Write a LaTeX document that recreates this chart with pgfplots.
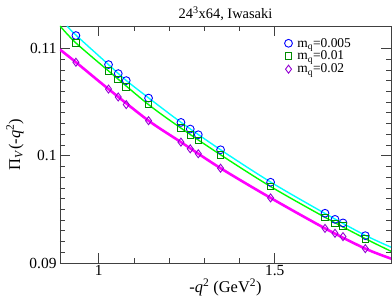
\documentclass[border=0pt]{standalone}
\usepackage{pgfplots}
\pgfplotsset{compat=1.18}
\usepackage{fontspec}
\setmainfont{Liberation Serif}
\definecolor{cblue}{HTML}{0000FF}
\definecolor{cgreen}{HTML}{008B00}
\definecolor{cviolet}{HTML}{9400D3}
\definecolor{lcyan}{HTML}{00FFFF}
\definecolor{lgreen}{HTML}{00FF00}
\definecolor{lmag}{HTML}{FF00FF}
\begin{document}
\begin{tikzpicture}
\begin{axis}[
  scale only axis, width=331bp, height=237bp,
  xmin=0.89, xmax=1.83, ymin=0.09, ymax=0.1121,
  xtick={1,1.5}, xticklabels={1,1.5}, minor x tick num=4,
  ytick={0.09,0.1,0.11}, yticklabels={0.09,0.1,0.11}, minor y tick num=9,
  scaled y ticks=false, scaled x ticks=false,
  tick align=inside, major tick length=10bp, minor tick length=5bp,
  axis line style={black!75, line width=0.9pt},
  every tick/.style={black!75, line width=0.8pt},
  tick label style={font=\fontsize{15.5}{17}\selectfont},
  xticklabel style={yshift=1bp},
  title={24\textsuperscript{3}x64, Iwasaki},
  title style={font=\fontsize{14.5}{16}\selectfont, yshift=-4bp},
  xlabel={-\textit{q}\textsuperscript{2} (GeV\textsuperscript{2})},
  ylabel={Π\textsubscript{\textit{V}}(-\textit{q}\textsuperscript{2})},
  label style={font=\fontsize{16.5}{18}\selectfont},
  xlabel style={yshift=4bp},
  ylabel style={yshift=-1bp},
  legend style={draw=none, fill=none, at={(0.678,0.952)}, anchor=north west,
    font=\fontsize{13.5}{14}\selectfont, row sep=1.5bp, inner sep=0bp,
    nodes={inner xsep=5bp, inner ysep=0.5bp}},
  legend cell align=left,
  clip=true,
]
% fit curves
\addplot[lcyan, line width=1.4pt, smooth, forget plot] coordinates {
(0.910,0.1121) (0.9352,0.11125) (1.0278,0.10850) (1.0781,0.10702) (1.1415,0.10540)
(1.2335,0.10312) (1.346,0.10056) (1.4881,0.09755) (1.6426,0.09462) (1.7571,0.09258) (1.831,0.09146)};
\addplot[lgreen, line width=1.4pt, smooth, forget plot] coordinates {
(0.89,0.1121) (0.9352,0.11052) (1.0278,0.10791) (1.1415,0.10477) (1.2335,0.10258)
(1.346,0.10009) (1.4881,0.09713) (1.6426,0.09426) (1.7571,0.09227) (1.831,0.09108)};
\addplot[lmag, line width=2.6pt, smooth, forget plot] coordinates {
(0.89,0.10990) (0.9352,0.10872) (1.0278,0.10622) (1.1415,0.10327) (1.2335,0.10127)
(1.346,0.09884) (1.4881,0.09607) (1.6426,0.09323) (1.7571,0.09134) (1.831,0.09040)};
% data
\addplot[only marks, mark=o, mark size=3.9bp, cblue, mark options={line width=0.9pt}] coordinates {
(0.9352,0.11121) (1.0278,0.10850) (1.0554,0.10766) (1.0781,0.10701) (1.1415,0.10538)
(1.2335,0.10311) (1.2599,0.10249) (1.2827,0.10196) (1.3460,0.10056) (1.4881,0.09753)
(1.6426,0.09464) (1.6710,0.09407) (1.6937,0.09374) (1.7571,0.09255)};
\addlegendentry{m\textsubscript{q}=0.005}
\addplot[only marks, mark=square, mark size=3.3bp, cgreen, mark options={line width=0.9pt}] coordinates {
(0.9352,0.11052) (1.0278,0.10791) (1.0554,0.10710) (1.0781,0.10641) (1.1415,0.10477)
(1.2335,0.10258) (1.2599,0.10196) (1.2827,0.10143) (1.3460,0.10009) (1.4881,0.09713)
(1.6426,0.09426) (1.6710,0.09370) (1.6937,0.09346) (1.7571,0.09227)};
\addlegendentry{m\textsubscript{q}=0.01}
\addplot[only marks, mark=diamond, mark size=4.0bp, cviolet, mark options={line width=0.9pt}] coordinates {
(0.9352,0.10872) (1.0278,0.10622) (1.0554,0.10548) (1.0781,0.10477) (1.1415,0.10327)
(1.2335,0.10127) (1.2599,0.10065) (1.2827,0.10019) (1.3460,0.09884) (1.4881,0.09607)
(1.6426,0.09323) (1.6710,0.09277) (1.6937,0.09246) (1.7571,0.09134)};
\addlegendentry{m\textsubscript{q}=0.02}
\end{axis}
\pgfresetboundingbox
\useasboundingbox (-60bp,-43bp) rectangle (332bp,263bp);
\end{tikzpicture}
\end{document}
